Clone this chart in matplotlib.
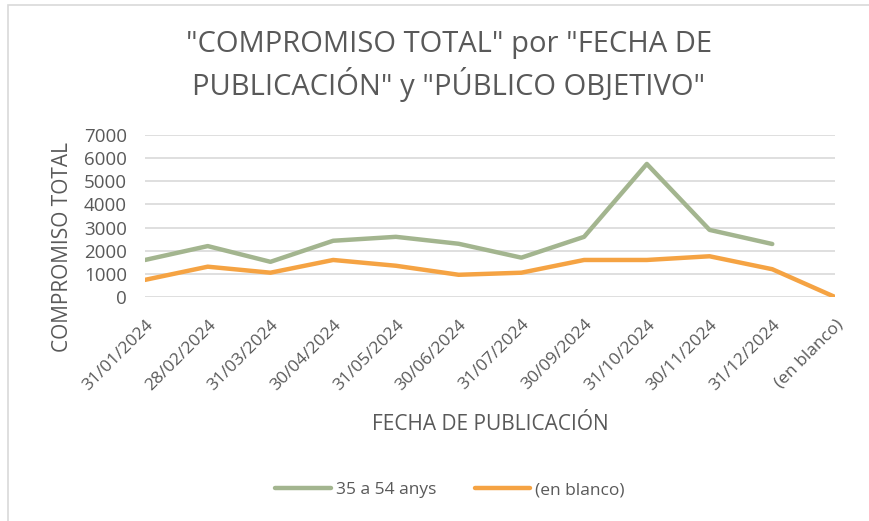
import matplotlib
matplotlib.use("Agg")
import matplotlib.pyplot as plt
from matplotlib.patches import Rectangle
import numpy as np

plt.rcParams['font.family'] = ['Open Sans', 'DejaVu Sans']

categories = ["31/01/2024", "28/02/2024", "31/03/2024", "30/04/2024", "31/05/2024",
              "30/06/2024", "31/07/2024", "30/09/2024", "31/10/2024", "30/11/2024",
              "31/12/2024", "(en blanco)"]
series_35_54 = [1600, 2200, 1520, 2430, 2600, 2300, 1700, 2600, 5750, 2900, 2290, np.nan]
series_blanco = [740, 1310, 1050, 1600, 1350, 960, 1050, 1600, 1600, 1760, 1200, 0]
yticks = [0, 1000, 2000, 3000, 4000, 5000, 6000, 7000]

title = '"COMPROMISO TOTAL" por "FECHA DE\nPUBLICACIÓN" y "PÚBLICO OBJETIVO"'
green = '#A3B58F'
orange = '#F5A343'
gray = '#595959'

fig = plt.figure(figsize=(8.69, 5.21), dpi=100)
fig.patches.append(Rectangle((8/869, -0.1), 1.2, (521-5)/521 + 0.1, transform=fig.transFigure,
                             fill=False, edgecolor='#D9D9D9', linewidth=1.2))

ax = fig.add_axes([145/869, (521-297)/521, 690/869, 162/521])
x = np.arange(len(categories))
ax.plot(x, series_35_54, color=green, lw=3.2, solid_capstyle='round', solid_joinstyle='round', label='35 a 54 anys')
ax.plot(x, series_blanco, color=orange, lw=3.2, solid_capstyle='round', solid_joinstyle='round', label='(en blanco)')

ax.set_xlim(0, len(categories) - 1)
ax.set_ylim(0, 7000)
ax.set_yticks(yticks)
ax.set_yticklabels([str(v) for v in yticks], fontsize=13.5, color=gray)
ax.yaxis.grid(True, color='#D9D9D9', lw=1.2)
ax.set_axisbelow(True)
for s in ax.spines.values():
    s.set_visible(False)
ax.tick_params(axis='y', length=0, pad=13)
ax.set_xticks(x)
ax.set_xticklabels(categories, rotation=45, ha='right', rotation_mode='anchor', fontsize=12.5, color=gray)
ax.tick_params(axis='x', length=0, pad=14)

fig.text(62/869, 1 - 247/521, 'COMPROMISO TOTAL', rotation=90, ha='center', va='center', fontsize=15, color=gray)
fig.text(490/869, 1 - 425/521, 'FECHA DE PUBLICACIÓN', ha='center', va='center', fontsize=15, color=gray)
fig.text(449/869, 1 - 66/521, title, ha='center', va='center', fontsize=21, color=gray, linespacing=1.3)

fig.legend(loc='center', bbox_to_anchor=(450/869, 1 - 490/521), ncol=2, frameon=False,
           fontsize=12.5, labelcolor=gray, handlelength=3.2, columnspacing=2.2, handletextpad=0.3)

fig.savefig('out.png', dpi=100)
